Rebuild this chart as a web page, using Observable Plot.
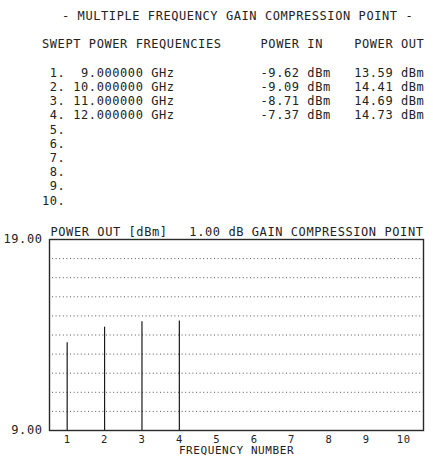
<!DOCTYPE html>
<html>
<head>
<meta charset="utf-8">
<script src="https://cdn.jsdelivr.net/npm/d3@7"></script>
<script src="https://cdn.jsdelivr.net/npm/@observablehq/plot@0.6"></script>
<style>
  body { margin: 0; background: #fff; }
  #sheet {
    position: relative; width: 433px; height: 459px; overflow: hidden;
    font-family: "DejaVu Sans Mono", monospace; font-size: 12px;
    letter-spacing: 0.58px; color: #222;
  }
  #title { position: absolute; left: 62px; top: 9px; line-height: 14.2px; white-space: pre; }
  #table { position: absolute; left: 42px; top: 37.4px; margin: 0; font: inherit; line-height: 14.2px; white-space: pre; }
  #chart { position: absolute; left: 0; top: 210px; }
</style>
</head>
<body>
<div id="sheet">
  <div id="title"></div>
  <pre id="table"></pre>
  <div id="chart"></div>
</div>
<script>
// Measurement report: swept power gain compression
const titleText = "- MULTIPLE FREQUENCY GAIN COMPRESSION POINT -";
const tableHeaders = ["SWEPT POWER FREQUENCIES", "POWER IN", "POWER OUT"];
const slotNumbers = [1, 2, 3, 4, 5, 6, 7, 8, 9, 10];
const frequenciesGHz = [9, 10, 11, 12];
const powerInDbm = [-9.62, -9.09, -8.71, -7.37];
const powerOutDbm = [13.59, 14.41, 14.69, 14.73];
const gridLevels = [10, 11, 12, 13, 14, 15, 16, 17, 18];
const yTickValues = [9, 19];
const yLabel = "POWER OUT [dBm]";
const compressionLabel = "1.00 dB GAIN COMPRESSION POINT";
const xLabel = "FREQUENCY NUMBER";

// Printed table (fixed-width columns)
document.getElementById("title").textContent = titleText;
const lines = [];
lines.push(tableHeaders[0].padEnd(28) + tableHeaders[1].padEnd(12) + tableHeaders[2]);
lines.push("");
slotNumbers.forEach((n, i) => {
  let line = String(n).padStart(2) + ".";
  if (i < frequenciesGHz.length) {
    line += " " + frequenciesGHz[i].toFixed(6).padStart(9) + " GHz";
    line = line.padEnd(28) + (powerInDbm[i].toFixed(2) + " dBm").padEnd(12) +
           powerOutDbm[i].toFixed(2) + " dBm";
  }
  lines.push(line);
});
document.getElementById("table").textContent = lines.join("\n");

// Stem plot of output power at each frequency slot
const points = frequenciesGHz.map((f, i) => ({slot: slotNumbers[i], out: powerOutDbm[i]}));

const chart = Plot.plot({
  width: 433,
  height: 249,
  marginTop: 29,
  marginBottom: 29,
  marginLeft: 49,
  marginRight: 10,
  style: {
    fontFamily: "DejaVu Sans Mono, monospace",
    fontSize: "12px",
    letterSpacing: "0.58px",
    color: "#222",
    background: "white",
    overflow: "visible"
  },
  x: {domain: [0.527, 10.53]},
  y: {domain: [9, 19]},
  marks: [
    Plot.ruleY(gridLevels, {stroke: "#555", strokeWidth: 1, strokeDasharray: "1,2.6", insetLeft: 3}),
    Plot.ruleX(points, {x: "slot", y1: 9, y2: "out", stroke: "#1a1a1a", strokeWidth: 1.2}),
    Plot.frame({stroke: "#2a2a2a", strokeWidth: 1.4}),
    Plot.axisY({ticks: yTickValues, tickFormat: d => d.toFixed(2), tickSize: 0, tickPadding: 7, label: null}),
    Plot.axisX({ticks: slotNumbers, tickSize: 0, tickPadding: 5, fontSize: 10.5, label: null}),
    Plot.text([xLabel], {frameAnchor: "bottom", dy: 23, fontSize: 11}),
    Plot.text([yLabel], {frameAnchor: "top-left", dx: 1, dy: -12, textAnchor: "start"}),
    Plot.text([compressionLabel], {frameAnchor: "top-right", dx: 0, dy: -12, textAnchor: "end"})
  ]
});
document.getElementById("chart").appendChild(chart);
</script>
</body>
</html>
